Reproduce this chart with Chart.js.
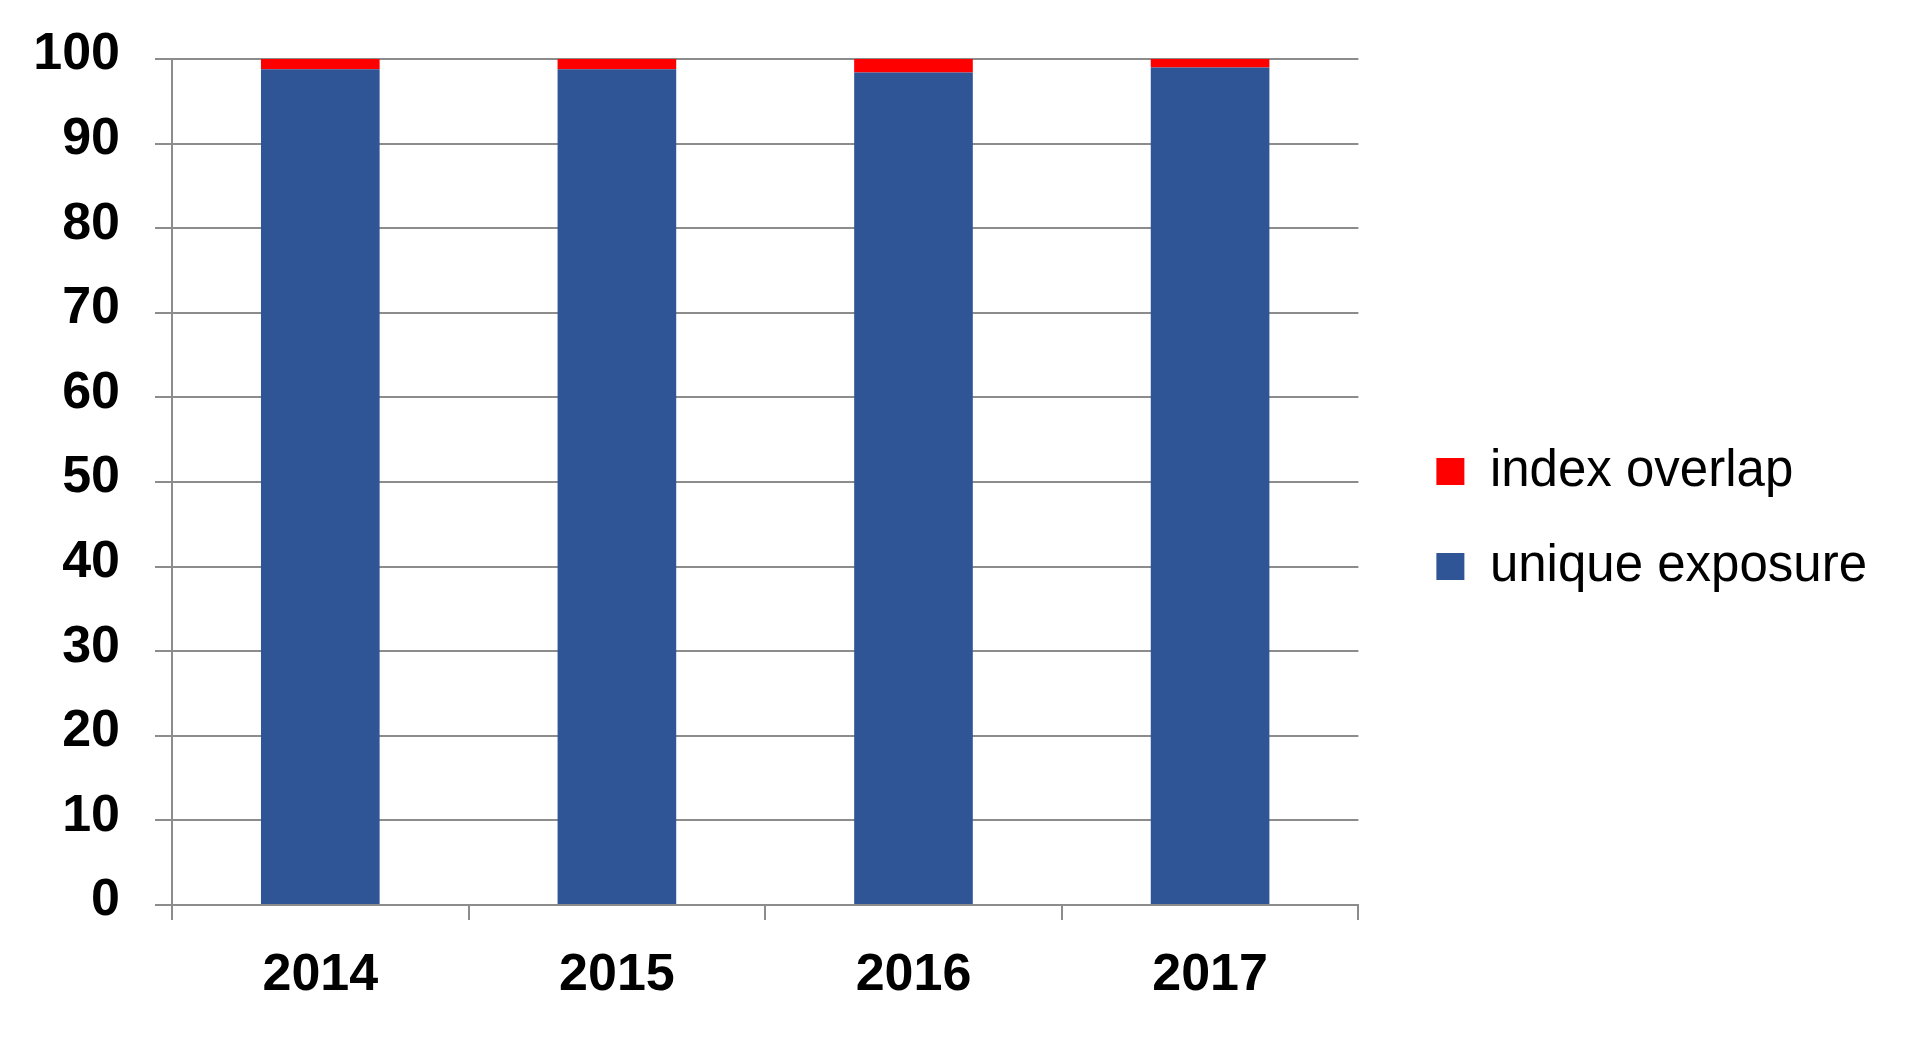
<!DOCTYPE html>
<html>
<head>
<meta charset="utf-8">
<script src="https://cdn.jsdelivr.net/npm/chart.js@4.4.1/dist/chart.umd.min.js"></script>
<style>
  html, body { margin: 0; padding: 0; background: #ffffff; }
  #wrap { width: 1920px; height: 1038px; position: relative; }
</style>
</head>
<body>
<div id="wrap"><canvas id="c"></canvas></div>
<script>
const categories = ['2014', '2015', '2016', '2017'];
const uniqueExposure = [98.8, 98.8, 98.4, 99.0];
const indexOverlap = [1.2, 1.2, 1.6, 1.0];
const seriesNames = ['unique exposure', 'index overlap'];
const yTicks = [0, 10, 20, 30, 40, 50, 60, 70, 80, 90, 100];

const GRID = '#8c8c8c';
const FONT = "'Liberation Sans', Arial, sans-serif";

new Chart(document.getElementById('c'), {
  type: 'bar',
  data: {
    labels: categories,
    datasets: [
      { label: seriesNames[0], data: uniqueExposure, backgroundColor: '#2F5597', borderWidth: 0, barPercentage: 0.4, categoryPercentage: 1.0 },
      { label: seriesNames[1], data: indexOverlap, backgroundColor: '#FF0000', borderWidth: 0, barPercentage: 0.4, categoryPercentage: 1.0 }
    ]
  },
  options: {
    responsive: true,
    maintainAspectRatio: false,
    devicePixelRatio: 1,
    animation: false,
    layout: { padding: { top: 35, bottom: 35, left: 0, right: 43 } },
    plugins: {
      tooltip: { enabled: false },
      legend: {
        position: 'right',
        reverse: true,
        maxWidth: 700,
        labels: {
          boxWidth: 28,
          boxHeight: 27,
          padding: 44,
          color: '#000000',
          font: { family: FONT, size: 51 }
        }
      }
    },
    scales: {
      x: {
        stacked: true,
        offset: true,
        grid: { display: true, drawOnChartArea: false, drawTicks: true, tickLength: 15, offset: true, color: GRID, lineWidth: 2 },
        border: { display: true, color: GRID, width: 2 },
        ticks: { color: '#000000', padding: 24, font: { family: FONT, size: 52, weight: 'bold' } },
        afterFit: (s) => { s.height = 98; }
      },
      xTop: {
        type: 'category',
        position: 'top',
        display: true,
        grid: { display: false, drawTicks: false },
        border: { display: false },
        ticks: { display: false },
        afterFit: (s) => { s.height = 24; }
      },
      y: {
        stacked: true,
        min: 0,
        max: 100,
        afterBuildTicks: (s) => { s.ticks = yTicks.map(v => ({ value: v })); },
        grid: { color: GRID, lineWidth: 2, drawTicks: true, tickLength: 17 },
        border: { display: true, color: GRID, width: 2 },
        ticks: { color: '#000000', padding: 35, labelOffset: -4, font: { family: FONT, size: 52, weight: 'bold' } },
        afterFit: (s) => { s.width = 172; s.paddingTop = 0; s.paddingBottom = 0; }
      },
      yR: {
        type: 'linear',
        position: 'right',
        display: true,
        grid: { display: false, drawTicks: false },
        border: { display: false },
        ticks: { display: false },
        afterFit: (s) => { s.width = 34; }
      }
    }
  }
});
</script>
</body>
</html>
